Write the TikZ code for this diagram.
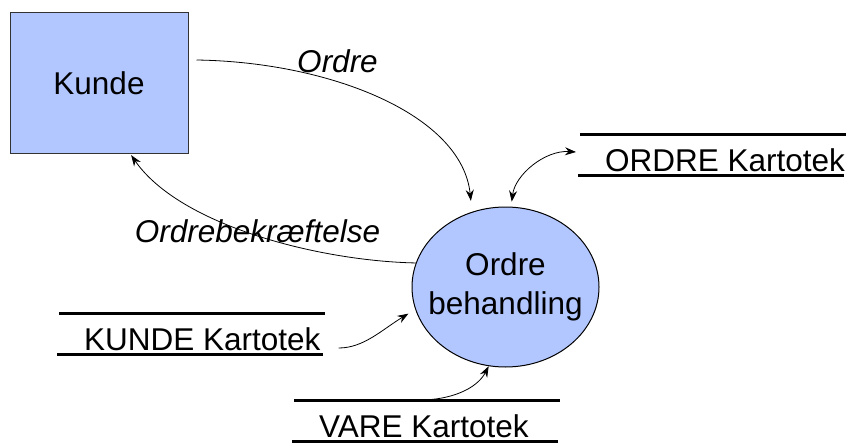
\documentclass[tikz,border=0pt]{standalone}
\usepackage{fontspec}
\setmainfont{Liberation Sans}
\usetikzlibrary{arrows.meta,shapes.geometric}
\definecolor{boxblue}{RGB}{178,198,255}
\newcommand{\bigfont}{\fontsize{31.5}{39}\selectfont}
\newcommand{\drawthick}{\draw[line width=3pt]}
% data store: #1 name, #2 left end of the lines, #3 baseline, #4 text
\newcommand{\kartotek}[4]{
    \node[anchor=base west, inner sep=0pt, font=\bigfont] (#1) at (#2+27,#3) {#4};
    \drawthick ([xshift=-25pt,yshift=37pt]#1.base west)--++(266,0);
    \drawthick ([xshift=-27pt,yshift=-4pt]#1.base west)--++(266,0);
}
\tikzset{
    >={Stealth[length=11pt,width=8pt]},
    flow/.style={->, line width=0.8pt},
    flowlabel/.style={anchor=base, font=\bigfont\itshape},
}

\begin{document}
\begin{tikzpicture}[x=1pt,y=-1pt]
\useasboundingbox (0,0) rectangle (851,444);
\node[draw=black!80, line width=1pt, fill=boxblue, minimum width=178pt, minimum height=140pt, font=\bigfont] (kunde) at (99,83) {Kunde};
\node[ellipse, draw, line width=1pt, fill=boxblue, minimum width=187pt, minimum height=160pt, inner xsep=-20pt, inner ysep=0pt, align=center, font=\bigfont] (proc) at (505.5,287) {Ordre\\behandling};
\kartotek{ordrekart}{578}{171}{ORDRE Kartotek}
\kartotek{kundekart}{57}{350}{KUNDE Kartotek}
\kartotek{varekart}{292}{437}{VARE Kartotek}
\node[flowlabel] (ordrelbl) at (337.5,73) {Ordre};
\node[flowlabel] (bekrlbl) at (257.5,242) {Ordrebekræftelse};
% flows
\draw[flow, shorten >=11pt] ([xshift=8pt,yshift=23pt]kunde.east) .. controls +(134,2) and +(-10,-97) .. (proc.114);
\draw[flow, shorten >=2pt] (proc.165) .. controls +(-97,-2) and +(50,72) .. ([xshift=31pt]kunde.south);
\draw[flow, <->, shorten >=5pt] ([xshift=-29pt,yshift=19pt]ordrekart.base west) .. controls +(-31,-2) and +(4,-32) .. (proc.86);
\draw[flow, shorten >=8pt] ([xshift=18pt,yshift=2pt]kundekart.base east) .. controls +(25,0) and +(-33,20) .. (proc.194);
\draw[flow] ([xshift=101pt,yshift=37pt]varekart.base west) .. controls +(30,0) and +(-12,23) .. (proc.258);
\end{tikzpicture}
\end{document}
